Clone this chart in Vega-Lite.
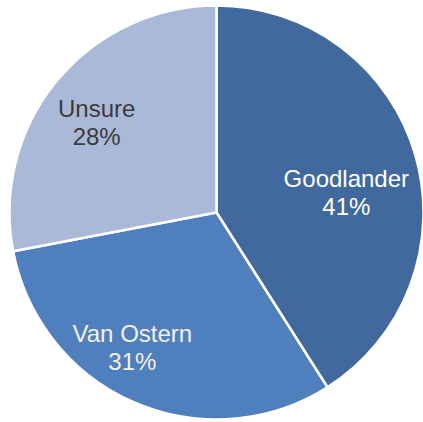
{
  "$schema": "https://vega.github.io/schema/vega-lite/v6.json",
  "width": 423,
  "height": 422,
  "autosize": {"type": "fit", "contains": "padding"},
  "padding": {"left": 10, "top": 3, "right": 0, "bottom": 0},
  "background": "white",
  "view": {"stroke": null},
  "data": {"values": [
    {"name": "Goodlander", "pct": 0.41},
    {"name": "Van Ostern", "pct": 0.31},
    {"name": "Unsure", "pct": 0.28}
  ]},
  "encoding": {
    "theta": {"field": "pct", "type": "quantitative", "stack": true},
    "order": {"field": "pct", "type": "quantitative", "sort": "descending"}
  },
  "layer": [
    {
      "mark": {"type": "arc", "outerRadius": 207, "stroke": "white", "strokeWidth": 2.5},
      "encoding": {
        "color": {"field": "name", "type": "nominal", "legend": null,
          "scale": {"domain": ["Goodlander", "Van Ostern", "Unsure"], "range": ["#42699d", "#4f80bd", "#aab9d8"]}}
      }
    },
    {
      "mark": {"type": "text", "radius": 130, "dx": 5, "dy": 4, "fontSize": 24, "font": "Liberation Sans", "fill": "#ffffff"},
      "encoding": {"text": {"condition": {"test": "datum.name === 'Goodlander'", "field": "name", "type": "nominal"}, "value": ""}}
    },
    {
      "mark": {"type": "text", "radius": 130, "dx": 5, "dy": 32, "fontSize": 24, "font": "Liberation Sans", "fill": "#ffffff"},
      "encoding": {"text": {"condition": {"test": "datum.name === 'Goodlander'", "field": "pct", "type": "quantitative", "format": ".0%"}, "value": ""}}
    },
    {
      "mark": {"type": "text", "radius": 159, "dx": -21, "dy": -23.5, "fontSize": 24, "font": "Liberation Sans", "fill": "#f3f0e4"},
      "encoding": {"text": {"condition": {"test": "datum.name === 'Van Ostern'", "field": "name", "type": "nominal"}, "value": ""}}
    },
    {
      "mark": {"type": "text", "radius": 159, "dx": -21, "dy": 4.5, "fontSize": 24, "font": "Liberation Sans", "fill": "#f3f0e4"},
      "encoding": {"text": {"condition": {"test": "datum.name === 'Van Ostern'", "field": "pct", "type": "quantitative", "format": ".0%"}, "value": ""}}
    },
    {
      "mark": {"type": "text", "radius": 149, "dx": -5, "dy": -8, "fontSize": 24, "font": "Liberation Sans", "fill": "#3b3b3b"},
      "encoding": {"text": {"condition": {"test": "datum.name === 'Unsure'", "field": "name", "type": "nominal"}, "value": ""}}
    },
    {
      "mark": {"type": "text", "radius": 149, "dx": -5, "dy": 20, "fontSize": 24, "font": "Liberation Sans", "fill": "#3b3b3b"},
      "encoding": {"text": {"condition": {"test": "datum.name === 'Unsure'", "field": "pct", "type": "quantitative", "format": ".0%"}, "value": ""}}
    }
  ]
}
